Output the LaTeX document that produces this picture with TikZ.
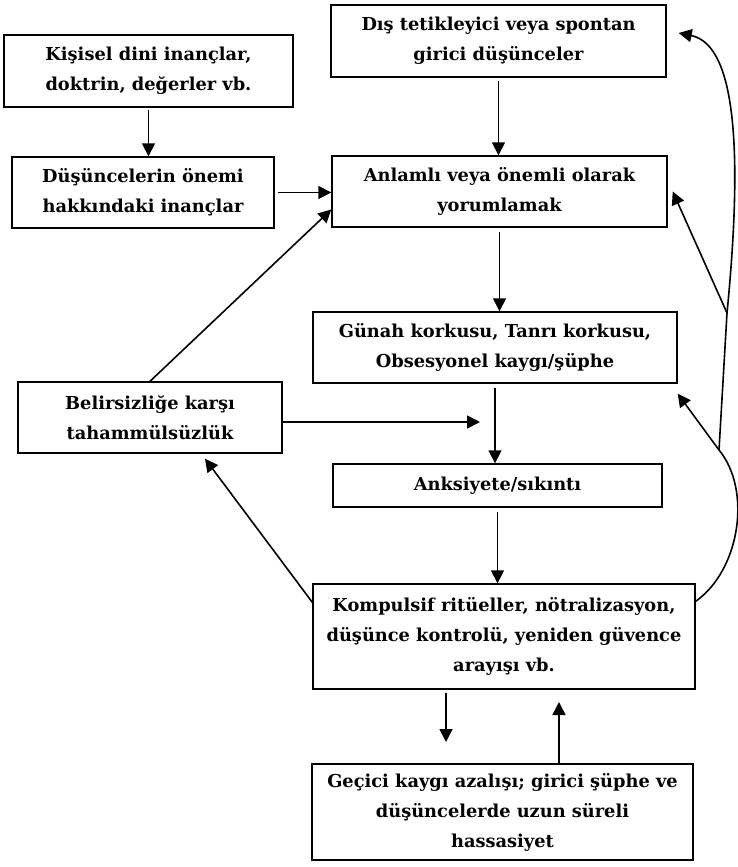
\documentclass[tikz,border=0pt]{standalone}
\usepackage{fontspec}
\setmainfont{DejaVu Serif}
\usetikzlibrary{arrows.meta}

\tikzset{
  box/.style={draw, line width=1.4pt, align=center, inner sep=0pt,
    font=\bfseries\fontsize{17.8}{30}\selectfont},
  arr/.style={line width=1.6pt, -{Triangle[length=13pt,width=13pt]}},
  ln/.style={line width=1.6pt}
}

\begin{document}
\begin{tikzpicture}[x=1pt,y=-1pt]
      \useasboundingbox[fill=white] (0,0) rectangle (737,867);

      \node[box, minimum width=335pt, minimum height=72pt] (trig) at (498.5,41)
        {Dış tetikleyici veya spontan\\girici düşünceler};
      \node[box, minimum width=289pt, minimum height=72pt] (pers) at (148.5,71)
        {Kişisel dini inançlar,\\doktrin, değerler vb.};
      \node[box, minimum width=262pt, minimum height=71pt] (belief) at (143,192.5)
        {Düşüncelerin önemi\\hakkındaki inançlar};
      \node[box, minimum width=335pt, minimum height=71pt] (interp) at (499.5,191.5)
        {Anlamlı veya önemli olarak\\yorumlamak};
      \node[box, minimum width=364pt, minimum height=71pt] (fear) at (495,347.5)
        {Günah korkusu, Tanrı korkusu,\\Obsesyonel kaygı/şüphe};
      \node[box, minimum width=264pt, minimum height=71pt] (intol) at (150,417.5)
        {Belirsizliğe karşı\\tahammülsüzlük};
      \node[box, minimum width=329pt, minimum height=43pt] (anx) at (497.5,485.5)
        {Anksiyete/sıkıntı};
      \node[box, minimum width=382pt, minimum height=105pt] (comp) at (504,636.5)
        {Kompulsif ritüeller, nötralizasyon,\\düşünce kontrolü, yeniden güvence\\arayışı vb.};
      \node[box, minimum width=381pt, minimum height=96pt] (relief) at (502.5,812)
        {Geçici kaygı azalışı; girici şüphe ve\\düşüncelerde uzun süreli\\hassasiyet};

      \coordinate (mid) at (480,422);
      \coordinate (dn) at (446,742);
      \coordinate (up) at (559,702);
      \coordinate (j1) at (719,450);
      \coordinate (j2) at (727,313);

      \draw[arr] ([yshift=-3pt]trig.south) -- (trig.south |- interp.north);
      \draw[arr] ([yshift=-2pt]pers.south) -- (pers.south |- belief.north);
      \draw[arr] ([xshift=3pt]belief.east) -- (belief.east -| interp.west);
      \draw[arr] ([yshift=-4pt]interp.south) -- (interp.south |- fear.north);
      \draw[arr] ([yshift=-4pt]fear.south) -- (fear.south |- anx.north);
      \draw[arr] ([yshift=-4pt]anx.south) -- (anx.south |- comp.north);
      \draw[arr] (intol.east |- mid) -- (mid);
      \draw[arr] (intol.north) -- ([yshift=-18pt]interp.west);
      \draw[arr] ([yshift=-19pt]comp.north west) -- ([xshift=55pt,yshift=-5pt]intol.south);
      \draw[arr] (comp.south -| dn) ++(0,3) -- (dn);
      \draw[arr] (relief.north -| up) -- (up);

      \draw[ln] ([yshift=-18pt]comp.north east) .. controls (740,570) and (752,490) .. (j1);
      \draw[arr] (j1) -- ([yshift=-10pt]fear.south east);
      \draw[ln] (j1) -- (j2);
      \draw[arr] (j2) -- ([xshift=5pt]interp.east);
      \draw[arr] (j2) .. controls (742,160) and (738,45) .. ([xshift=12pt,yshift=8pt]trig.east);

    \end{tikzpicture}
\end{document}
